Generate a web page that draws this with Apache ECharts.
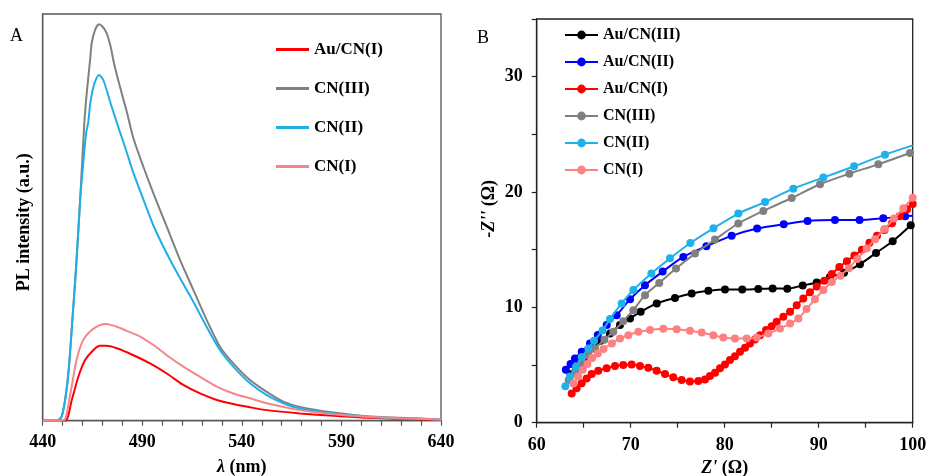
<!DOCTYPE html>
<html><head><meta charset="utf-8">
<script src="https://cdn.jsdelivr.net/npm/echarts@6/dist/echarts.min.js"></script>
<style>html,body{margin:0;padding:0;background:#fff}#c{width:930px;height:476px}</style>
</head><body><div id="c"></div>
<script>
// ---------- Panel A : PL spectra (wavelength nm, intensity a.u. 0-100) ----------
const plNames = ['Au/CN(I)', 'CN(III)', 'CN(II)', 'CN(I)'];
const plColors = ['#ff0000', '#808080', '#1eaee8', '#f4868a'];
const plXTicks = [440, 490, 540, 590, 640];

const plAuCN1 = [[440,0],[451.2,0],[454.6,5.1],[457.9,10.8],[461.3,14.9],[465.5,17.4],[468.8,18.4],[471.8,18.4],[477.2,17.8],[485.5,16.1],[493.9,14.1],[502.3,11.6],[510.6,8.8],[519,6.7],[527.4,5.1],[535.7,4.1],[544.1,3.3],[552.5,2.6],[569.2,1.8],[586,1.2],[602.7,0.7],[619.4,0.5],[640,0.2]];
const plCN3 = [[440,0],[447,0],[449.5,1],[451.5,5.9],[453.2,13.3],[455,25.5],[456.8,37.9],[458.8,54.3],[460.9,73.2],[462.1,80.5],[463.8,88.7],[464.6,92.8],[466.3,96.1],[468.3,97.5],[470.2,96.8],[472.1,95.3],[474.1,92.0],[475.8,87.9],[478.8,82.1],[482.2,76.0],[485.5,69.5],[490.5,62.5],[495.6,55.9],[502.3,47.7],[509,39.5],[515.7,32.1],[522.3,24.8],[529,18.2],[535.7,14.1],[544.1,10],[552.5,7.1],[560.8,4.7],[569.2,3.4],[586,2],[602.7,1.1],[619.4,0.7],[640,0.3]];
const plCN2 = [[440,0],[447,0],[449.5,1],[451.5,5.9],[453.2,13.3],[455,25.5],[456.8,37.9],[458.8,54.3],[460.3,63],[461.8,70.7],[462.9,73.5],[463.8,77.8],[464.9,80.9],[466.3,83.4],[468.3,85.0],[470.4,83.8],[472.1,81.3],[474.1,78.0],[476.3,74.7],[477.9,72.3],[482.2,66],[485.5,61],[490.5,54.5],[495.6,48],[502.3,41.1],[509,35],[515.7,29.2],[522.3,23.1],[529,17.4],[535.7,13.3],[544.1,9.2],[552.5,6.3],[560.8,4.3],[569.2,3.0],[586,1.8],[602.7,1.0],[619.4,0.6],[640,0.3]];
const plCN1 = [[440,0],[450.3,0],[453.6,5.9],[457,14.9],[460.3,19.8],[464.6,22.3],[468.8,23.5],[471.8,23.8],[477.2,23.1],[482.2,22.1],[488.9,20.7],[495.6,18.6],[502.3,16.1],[510.6,13.3],[519,10.8],[527.4,8.4],[535.7,6.7],[544.1,5.5],[552.5,4.3],[569.2,2.6],[586,1.6],[602.7,1.0],[619.4,0.6],[640,0.3]];
const plData = [plAuCN1, plCN3, plCN2, plCN1];

// ---------- Panel B : Nyquist plots (Z' ohm, -Z'' ohm) ----------
const eisNames = ['Au/CN(III)', 'Au/CN(II)', 'Au/CN(I)', 'CN(III)', 'CN(II)', 'CN(I)'];
const eisColors = ['#000000', '#0000ff', '#ff0000', '#808080', '#1fb2ea', '#ff8080'];
const eisXTicks = [60, 70, 80, 90, 100];
const eisYTicks = [0, 10, 20, 30];

const eisAuCN3 = [[63.6,4.2],[64.3,4.9],[65.0,5.6],[65.85,6.44],[66.8,7.1],[67.8,7.74],[68.86,8.46],[69.93,9.04],[71.06,9.61],[72.77,10.34],[74.71,10.82],[76.49,11.2],[78.26,11.43],[80.03,11.55],[81.87,11.55],[83.57,11.6],[85.1,11.64],[86.66,11.62],[88.3,11.9],[89.79,12.16],[91.2,12.64],[92.69,12.99],[94.39,13.74],[96.1,14.72],[97.87,15.73],[99.79,17.12]];
const eisAuCN2 = [[63.1,4.6],[63.6,5.1],[64.07,5.57],[64.79,6.15],[65.67,6.87],[66.5,7.6],[67.45,8.46],[68.51,9.32],[69.93,10.7],[71.52,11.92],[73.4,13.1],[75.6,14.37],[78.05,15.3],[80.74,16.2],[83.45,16.83],[86.28,17.2],[88.82,17.49],[91.73,17.57],[94.35,17.57],[96.87,17.72],[99.2,17.9],[100,17.95]];
const eisAuCN1 = [[63.72,2.54],[64.25,2.98],[64.78,3.41],[65.31,3.84],[65.85,4.22],[66.55,4.5],[67.44,4.71],[68.33,4.91],[69.21,5.0],[70.1,5.05],[70.99,4.91],[71.87,4.76],[72.76,4.5],[73.65,4.22],[74.53,3.93],[75.42,3.7],[76.3,3.58],[77.19,3.61],[77.9,3.75],[78.43,4.04],[78.97,4.33],[79.5,4.71],[80.03,5.05],[80.56,5.43],[81.09,5.77],[81.63,6.15],[82.16,6.5],[82.69,6.87],[83.22,7.22],[83.76,7.59],[84.4,8.03],[85.0,8.37],[85.53,8.75],[86.24,9.18],[86.95,9.61],[87.66,10.19],[88.36,10.77],[89.07,11.3],[89.79,11.8],[90.6,12.3],[91.4,12.9],[92.2,13.5],[93.0,14.0],[93.8,14.5],[94.6,15.0],[95.4,15.6],[96.2,16.2],[97.0,16.7],[97.8,17.3],[98.6,17.9],[99.4,18.5],[100,18.96]];
const eisCN3 = [[63.4,3.7],[64.1,4.5],[64.8,5.2],[65.5,5.85],[66.2,6.44],[67.2,7.2],[68.15,7.88],[69.2,8.8],[70.28,9.76],[71.52,11.06],[73.04,12.12],[74.82,13.37],[76.84,14.66],[78.97,15.88],[81.45,17.27],[84.11,18.36],[87.13,19.48],[90.14,20.67],[93.26,21.59],[96.34,22.4],[99.71,23.38]];
const eisCN2 = [[63.05,3.15],[63.55,4.0],[64.18,4.84],[64.79,5.7],[65.5,6.43],[66.1,7.1],[67.0,8.0],[67.8,9.0],[69.04,10.34],[70.28,11.5],[72.2,12.93],[74.18,14.25],[76.35,15.58],[78.8,16.85],[81.45,18.13],[84.29,19.13],[87.3,20.29],[90.49,21.25],[93.76,22.23],[97.05,23.24],[100,24.04]];
const eisCN1 = [[63.9,3.4],[64.4,4.0],[64.9,4.6],[65.4,5.1],[65.9,5.6],[66.5,6.0],[67.1,6.4],[68.0,6.87],[68.86,7.3],[69.75,7.59],[70.81,7.88],[72.05,8.03],[73.47,8.14],[74.89,8.11],[76.3,7.97],[77.55,7.82],[78.79,7.59],[79.85,7.39],[81.09,7.3],[82.34,7.3],[83.4,7.39],[84.64,7.73],[85.88,8.17],[86.95,8.6],[87.84,9.04],[88.7,9.85],[89.6,10.7],[90.5,11.5],[91.4,12.2],[92.3,12.75],[93.2,13.4],[94.1,14.2],[95.1,15.1],[96.0,15.9],[97.0,16.8],[98.0,17.7],[99.0,18.6],[100,19.5]];
const eisData = [eisAuCN3, eisAuCN2, eisAuCN1, eisCN3, eisCN2, eisCN1];
const eisEdgeOnly = [false, true, false, false, true, false]; // last point only continues line to frame

const SERIF = '"Liberation Serif", "DejaVu Serif", serif';
const B_SUFFIX = '\u0000B';

const chart = echarts.init(document.getElementById('c'), null, {renderer: 'canvas'});

const series = [];
plData.forEach((d, i) => {
  series.push({
    name: plNames[i], type: 'line', xAxisIndex: 0, yAxisIndex: 0,
    data: d, symbol: 'none', smooth: 0.25,
    lineStyle: {color: plColors[i], width: 2}, itemStyle: {color: plColors[i]},
    z: 2 + i
  });
});
eisData.forEach((d, i) => {
  const data = d.map((p, j) => (eisEdgeOnly[i] && j === d.length - 1) ? {value: p, symbol: 'none'} : p);
  series.push({
    name: eisNames[i] + B_SUFFIX, type: 'line', xAxisIndex: 1, yAxisIndex: 1,
    data: data, symbol: 'circle', symbolSize: 8, showAllSymbol: true, smooth: 0.3,
    lineStyle: {color: eisColors[i], width: 2}, itemStyle: {color: eisColors[i]},
    z: 2 + i
  });
});

const axisNameStyle = (size) => ({
  fontFamily: SERIF, fontWeight: 'bold', fontSize: size, color: '#000',
  rich: {i: {fontFamily: SERIF, fontWeight: 'bold', fontStyle: 'italic', fontSize: size, color: '#000'}}
});

chart.setOption({
  animation: false,
  backgroundColor: '#fff',
  grid: [
    {left: 42.7, top: 14, width: 398.3, height: 406.7, show: true, borderColor: '#555', borderWidth: 1.3, containLabel: false, outerBoundsMode: 'none'},
    {left: 536.7, top: 19, width: 376, height: 403.7, show: true, borderColor: '#222', borderWidth: 1.3, containLabel: false, outerBoundsMode: 'none'}
  ],
  xAxis: [
    {
      gridIndex: 0, type: 'value', min: 440, max: 640, interval: 10,
      axisLine: {show: true, lineStyle: {color: '#555', width: 1.3}},
      axisTick: {show: true, inside: false, length: 5, lineStyle: {color: '#555', width: 1.2}},
      axisLabel: {
        margin: 13, fontFamily: SERIF, fontWeight: 'bold', fontSize: 18, color: '#000',
        formatter: v => plXTicks.indexOf(v) >= 0 ? String(v) : ''
      },
      splitLine: {show: false},
      name: '{i|λ} (nm)', nameLocation: 'middle', nameGap: 38, nameTextStyle: axisNameStyle(18)
    },
    {
      gridIndex: 1, type: 'value', min: 60, max: 100, interval: 5,
      axisLine: {show: true, lineStyle: {color: '#222', width: 1.3}},
      axisTick: {show: true, inside: false, length: 5, lineStyle: {color: '#222', width: 1.2}},
      axisLabel: {
        margin: 14, fontFamily: SERIF, fontWeight: 'bold', fontSize: 18, color: '#000',
        formatter: v => eisXTicks.indexOf(v) >= 0 ? String(v) : ''
      },
      splitLine: {show: false},
      name: "{i|Z'} (Ω)", nameLocation: 'middle', nameGap: 35, nameTextStyle: axisNameStyle(18)
    }
  ],
  yAxis: [
    {
      gridIndex: 0, type: 'value', min: 0, max: 100,
      axisLine: {show: true, lineStyle: {color: '#555', width: 1.3}},
      axisTick: {show: false}, axisLabel: {show: false}, splitLine: {show: false},
      name: 'PL intensity (a.u.)', nameLocation: 'middle', nameGap: 9, nameRotate: 90,
      nameTextStyle: Object.assign(axisNameStyle(18), {padding: [0, 10, 0, 0]})
    },
    {
      gridIndex: 1, type: 'value', min: 0, max: 35, interval: 5,
      axisLine: {show: true, lineStyle: {color: '#222', width: 1.3}},
      axisTick: {show: true, inside: false, length: 5, lineStyle: {color: '#222', width: 1.2}},
      axisLabel: {
        margin: 14, fontFamily: SERIF, fontWeight: 'bold', fontSize: 18, color: '#000',
        formatter: v => eisYTicks.indexOf(v) >= 0 ? String(v) : ''
      },
      splitLine: {show: false},
      name: "-{i|Z''} (Ω)", nameLocation: 'middle', nameGap: 38, nameRotate: 90,
      nameTextStyle: Object.assign(axisNameStyle(18), {padding: [0, 0, 0, 24]})
    }
  ],
  legend: [
    {
      data: plNames.map(n => ({name: n, icon: 'rect'})),
      orient: 'vertical', left: 276, top: 41, padding: 0, itemWidth: 33, itemHeight: 3, itemGap: 22,
      textStyle: {fontFamily: SERIF, fontWeight: 'bold', fontSize: 17, color: '#000'},
      selectedMode: false
    },
    {
      data: eisNames.map(n => n + B_SUFFIX),
      orient: 'vertical', left: 564, top: 27, padding: 0, itemWidth: 33, itemHeight: 11, itemGap: 11,
      formatter: n => n.replace(B_SUFFIX, ''),
      textStyle: {fontFamily: SERIF, fontWeight: 'bold', fontSize: 16, color: '#000'},
      selectedMode: false
    }
  ],
  graphic: [
    {type: 'text', left: 10, top: 27, style: {text: 'A', font: '18px "Liberation Serif"', fill: '#000'}},
    {type: 'text', left: 477, top: 29, style: {text: 'B', font: '18px "Liberation Serif"', fill: '#000'}}
  ],
  series: series
});
</script>
</body></html>
